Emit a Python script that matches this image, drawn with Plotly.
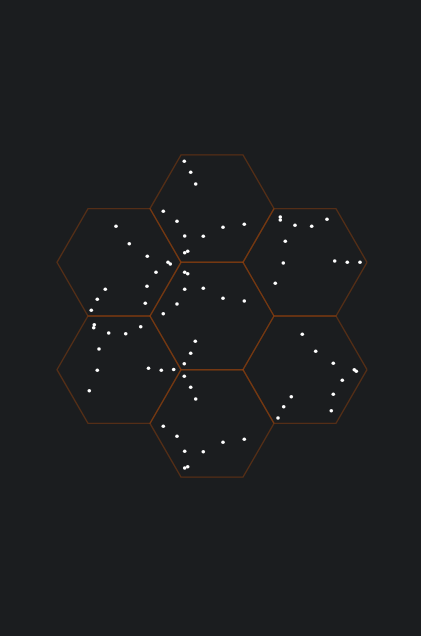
import math
import plotly.graph_objects as go

# Hexagon cell centres (canvas units, y grows downward) and circumradius
hex_cx = [212, 119, 305, 212, 119, 305, 212]
hex_cy = [208.6, 262.3, 262.3, 316, 369.7, 369.7, 423.4]
hex_radius = 62

# Scatter points
pt_x = [184.3, 190.7, 195.7, 163.3, 177, 223, 244.3, 184.7, 203.3, 187.7, 184.7,
        116, 129.3, 147.3, 156, 147, 105.3, 145.3, 97.3, 91.3,
        168, 170.3,
        280.3, 280.3, 327, 295, 311.7, 285.3, 283.3, 334.7, 347.3, 360, 275.3,
        184.7, 187.7, 184.7, 203.3, 223, 244.3, 177, 163.3, 195.3, 190.7, 184.3, 173.7, 184.3,
        94.3, 93.7, 108.7, 125.7, 140.7, 99, 97.3, 148.5, 161.3, 89.3,
        302.3, 315.7, 333.3, 354.3, 356.3, 342.3, 333.3, 291.3, 283.7, 331.3, 278,
        190.7, 195.7, 163.3, 177, 223, 244.3, 184.7, 203.3, 187.7, 184.7]
pt_y = [161.3, 172.3, 184, 211.3, 221.3, 227.3, 224.3, 236, 236.3, 251.3, 252.7,
        226.3, 243.7, 256.3, 272.3, 286.3, 289.3, 303.3, 299.3, 310.3,
        262.3, 264,
        217, 220, 219.3, 225.3, 226.3, 241.3, 263, 261, 262.3, 262.3, 283.3,
        272.3, 273.7, 289.3, 288.3, 298.3, 301, 304, 313.7, 341.3, 353.3, 363.7, 369.5, 376.3,
        324.7, 327.7, 333, 333.7, 326.7, 349, 370.3, 368.3, 370.2, 390.7,
        334.3, 351.3, 363.3, 369.7, 371.3, 380.3, 394.3, 396.7, 406.7, 410.7, 418,
        387.3, 399, 426.3, 436.3, 442.3, 439.3, 451.3, 451.7, 466.7, 468]

BG = "#1b1d1f"
fig = go.Figure()

for cx, cy in zip(hex_cx, hex_cy):
    xs, ys = [], []
    for k in range(7):
        a = math.radians(60 * k)
        xs.append(cx + hex_radius * math.cos(a))
        ys.append(cy + hex_radius * math.sin(a))
    fig.add_trace(go.Scatter(x=xs, y=ys, mode="lines",
                             line=dict(color="rgba(165,72,12,0.42)", width=1.4),
                             hoverinfo="skip", showlegend=False))

fig.add_trace(go.Scatter(x=pt_x, y=pt_y, mode="markers",
                         marker=dict(color="white", size=3.6, line=dict(width=0)),
                         showlegend=False))

fig.update_layout(
    width=421, height=636,
    margin=dict(l=0, r=0, t=0, b=0),
    paper_bgcolor=BG, plot_bgcolor=BG,
    xaxis=dict(range=[0, 421], visible=False, fixedrange=True),
    yaxis=dict(range=[636, 0], visible=False, fixedrange=True),
)

fig.write_html("out.html")
